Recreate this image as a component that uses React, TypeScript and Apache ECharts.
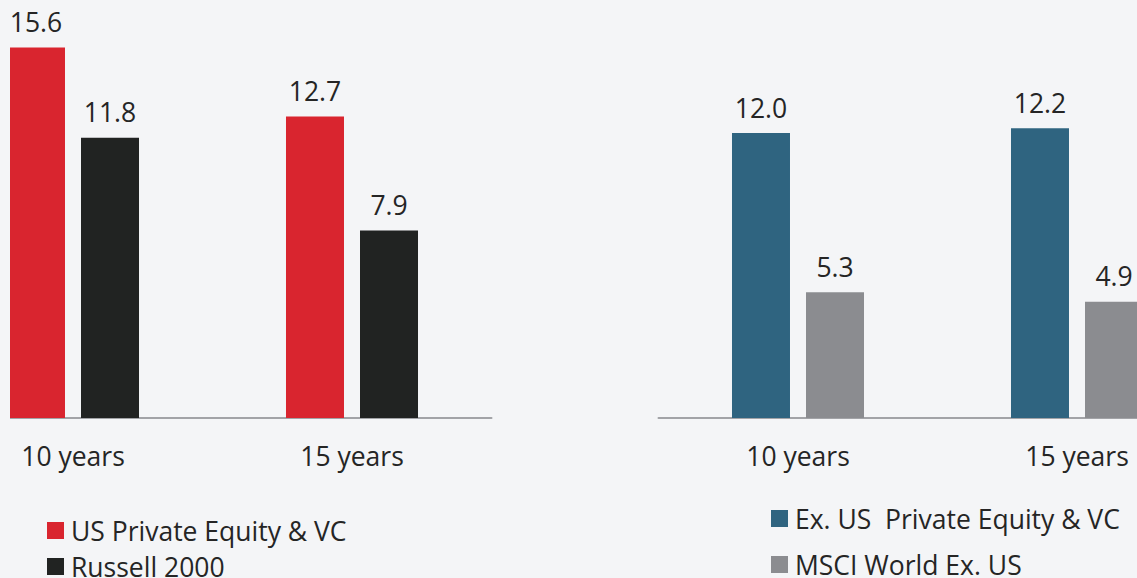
import React, { useEffect, useRef } from "react";
import * as echarts from "echarts";

const categories = ["10 years", "15 years"];
const usPeVc = [15.6, 12.7];
const russell2000 = [11.8, 7.9];
const exUsPeVc = [12.0, 12.2];
const msciWorldExUs = [5.3, 4.9];

const leftNames = ["US Private Equity & VC", "Russell 2000"];
const rightNames = ["Ex. US  Private Equity & VC", "MSCI World Ex. US"];

const BG = "#f4f5f7";
const FONT = "'Open Sans', Lato, sans-serif";
const TXT = "#252525";
const OFF_X = 100; // chart canvas extends beyond the visible window (cropped view)
const CH_W = 1137 + 2 * OFF_X;
const CH_H = 640;

export default function App() {
  const ref = useRef<HTMLDivElement>(null);
  useEffect(() => {
    if (!ref.current) return;
    const chart = echarts.init(ref.current, null, { renderer: "svg" });
    const label = {
      show: true,
      position: "top",
      distance: 12,
      color: TXT,
      fontFamily: FONT,
      fontSize: 26.5,
      formatter: (p: any) => Number(p.value).toFixed(1),
    };
    const xAxisBase = {
      type: "category",
      data: categories,
      axisTick: { show: false },
      axisLine: { lineStyle: { color: "#a2a3a7", width: 2 } },
      axisLabel: { color: TXT, fontFamily: FONT, fontSize: 26.5, margin: 24 },
    };
    const yAxisBase = {
      type: "value",
      min: 0,
      max: 16,
      show: false,
      splitLine: { show: false },
    };
    const barBase = {
      type: "bar",
      barWidth: 58,
      barGap: "27.6%",
      label,
    };
    const legendText = { color: TXT, fontFamily: FONT, fontSize: 26.5, padding: [0, 0, 0, 2] };
    chart.setOption({
      animation: false,
      backgroundColor: BG,
      textStyle: { fontFamily: FONT },
      grid: [
        { left: OFF_X - 66.5, width: 558, top: 38, bottom: CH_H - 418 },
        { left: OFF_X + 658.5, width: 558, top: 38, bottom: CH_H - 418 },
      ],
      xAxis: [
        { ...xAxisBase, gridIndex: 0 },
        { ...xAxisBase, gridIndex: 1 },
      ],
      yAxis: [
        { ...yAxisBase, gridIndex: 0 },
        { ...yAxisBase, gridIndex: 1 },
      ],
      legend: [
        {
          data: leftNames,
          orient: "vertical",
          left: OFF_X + 47,
          top: 517,
          padding: 0,
          icon: "rect",
          itemWidth: 17,
          itemHeight: 17,
          itemGap: 9,
          textStyle: legendText,
        },
        {
          data: rightNames,
          orient: "vertical",
          left: OFF_X + 771,
          top: 505,
          padding: 0,
          icon: "rect",
          itemWidth: 17,
          itemHeight: 17,
          itemGap: 19,
          textStyle: legendText,
        },
      ],
      graphic: [
        {
          type: "rect",
          left: 0,
          top: 0,
          z: 100,
          shape: { x: 0, y: 0, width: OFF_X + 10, height: CH_H },
          style: { fill: BG },
        },
      ],
      series: [
        { ...barBase, name: leftNames[0], data: usPeVc, xAxisIndex: 0, yAxisIndex: 0, itemStyle: { color: "#d9252f" } },
        { ...barBase, name: leftNames[1], data: russell2000, xAxisIndex: 0, yAxisIndex: 0, itemStyle: { color: "#212322" } },
        { ...barBase, name: rightNames[0], data: exUsPeVc, xAxisIndex: 1, yAxisIndex: 1, itemStyle: { color: "#2f6480" } },
        { ...barBase, name: rightNames[1], data: msciWorldExUs, xAxisIndex: 1, yAxisIndex: 1, itemStyle: { color: "#8b8c90" } },
      ],
    });
    return () => chart.dispose();
  }, []);
  return (
    <div
      style={{
        position: "absolute",
        left: 0,
        top: 0,
        width: 1137,
        height: 578,
        overflow: "hidden",
        background: BG,
      }}
    >
      <div
        ref={ref}
        style={{ position: "absolute", left: -OFF_X, top: 0, width: CH_W, height: CH_H }}
      />
    </div>
  );
}
